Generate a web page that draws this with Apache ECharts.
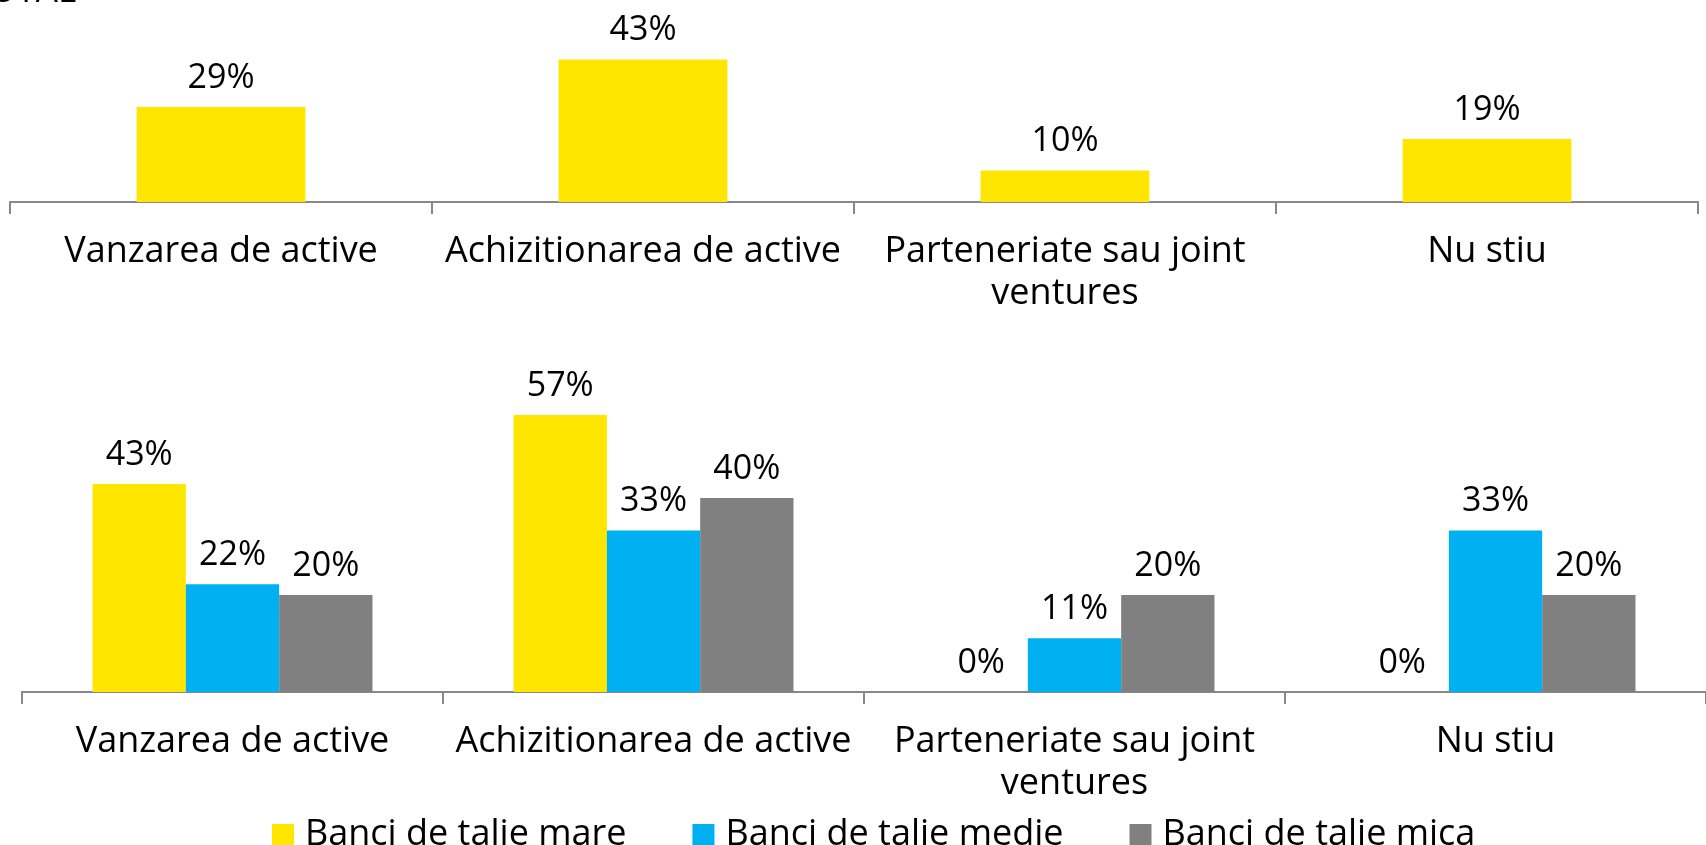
<!DOCTYPE html>
<html>
<head>
<meta charset="utf-8">
<script src="https://cdn.jsdelivr.net/npm/echarts@6/dist/echarts.min.js"></script>
<style>
  html, body { margin: 0; padding: 0; background: #fff; }
  #chart { width: 1706px; height: 845px; }
</style>
</head>
<body>
<div id="chart"></div>
<script>
// categorii
const categories = [
  "Vanzarea de active",
  "Achizitionarea de active",
  "Parteneriate sau joint\nventures",
  "Nu stiu"
];
// TOTAL (%)
const totalValues = [28.6, 42.9, 9.5, 19.0];
// pe marimea bancii (%)
const seriesNames = ["Banci de talie mare", "Banci de talie medie", "Banci de talie mica"];
const bigBanks = [42.9, 57.1, 0, 0];
const midBanks = [22.2, 33.3, 11.1, 33.3];
const smallBanks = [20, 40, 20, 20];

const FONT = "'Open Sans', 'Noto Sans', sans-serif";
const colors = ["#FFE600", "#00B0F0", "#808080"];

const chart = echarts.init(document.getElementById("chart"));

const pct = (p) => Math.round(p.value) + "%";
const barLabel = {
  show: true,
  position: "top",
  distance: 12,
  formatter: pct,
  color: "#000",
  fontFamily: FONT,
  fontSize: 34
};

const xAxisBase = {
  type: "category",
  data: categories,
  axisLine: { show: true, lineStyle: { color: "#888888", width: 2 } },
  axisTick: { show: true, length: 12, lineStyle: { color: "#888888", width: 2 } },
  axisLabel: {
    interval: 0,
    hideOverlap: false,
    margin: 29,
    color: "#000",
    fontFamily: FONT,
    fontSize: 36,
    lineHeight: 42
  }
};

const option = {
  animation: false,
  backgroundColor: "#fff",
  graphic: [
    {
      type: "text",
      x: -30,
      y: -8,
      style: {
        text: "TOTAL",
        fill: "#000",
        font: "35px " + FONT,
        verticalAlign: "middle"
      }
    }
  ],
  grid: [
    { left: 10, width: 1688, top: 36, height: 166 },
    { left: 22, width: 1695, top: 401, height: 291 }
  ],
  legend: {
    data: seriesNames,
    left: 267,
    top: 812,
    itemWidth: 22,
    itemHeight: 22,
    itemGap: 66,
    icon: "rect",
    textStyle: {
      color: "#000",
      fontFamily: FONT,
      fontSize: 36,
      lineHeight: 36,
      padding: [0, 0, 0, 6]
    }
  },
  xAxis: [
    Object.assign({ gridIndex: 0 }, xAxisBase),
    Object.assign({ gridIndex: 1 }, xAxisBase)
  ],
  yAxis: [
    { type: "value", gridIndex: 0, min: 0, max: 50, show: false },
    { type: "value", gridIndex: 1, min: 0, max: 60, show: false }
  ],
  series: [
    {
      name: "TOTAL",
      type: "bar",
      xAxisIndex: 0,
      yAxisIndex: 0,
      barWidth: "40%",
      data: totalValues,
      itemStyle: { color: colors[0] },
      label: barLabel
    },
    {
      name: seriesNames[0],
      type: "bar",
      xAxisIndex: 1,
      yAxisIndex: 1,
      barGap: "0%",
      barCategoryGap: "33.5%",
      data: bigBanks,
      itemStyle: { color: colors[0] },
      label: barLabel
    },
    {
      name: seriesNames[1],
      type: "bar",
      xAxisIndex: 1,
      yAxisIndex: 1,
      barGap: "0%",
      barCategoryGap: "33.5%",
      data: midBanks,
      itemStyle: { color: colors[1] },
      label: barLabel
    },
    {
      name: seriesNames[2],
      type: "bar",
      xAxisIndex: 1,
      yAxisIndex: 1,
      barGap: "0%",
      barCategoryGap: "33.5%",
      data: smallBanks,
      itemStyle: { color: colors[2] },
      label: barLabel
    }
  ]
};

chart.setOption(option);
</script>
</body>
</html>
